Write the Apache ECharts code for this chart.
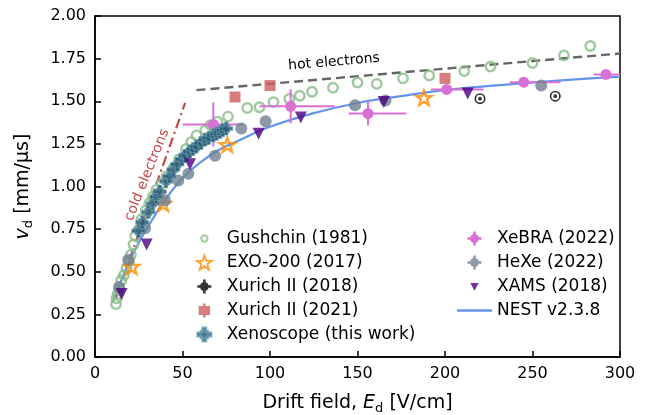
<!DOCTYPE html>
<html><head><meta charset="utf-8">
<script src="https://cdn.jsdelivr.net/npm/echarts@6/dist/echarts.min.js"></script>
<style>html,body{margin:0;padding:0;background:#fff}#c{width:646px;height:415px}</style>
</head><body><div id="c"></div>
<script>
// ---- data (E in V/cm, v in mm/us) ----
const gushchinE = [12,12.3,13,14,15,16.5,18,19.5,20.5,22,23,25,26.7,29,31,33,35,38,41,45,48,52,55,58,63,66,70,76,87,94,102,111,117,124,136,150,161,176,191,211,226,250,268,283];
const gushchinV = [0.31,0.345,0.37,0.40,0.45,0.48,0.52,0.56,0.60,0.66,0.71,0.75,0.81,0.86,0.90,0.94,0.98,1.02,1.06,1.11,1.16,1.22,1.26,1.30,1.33,1.36,1.38,1.41,1.46,1.465,1.495,1.514,1.532,1.556,1.579,1.61,1.602,1.634,1.651,1.677,1.704,1.724,1.769,1.824];
const exoE = [21,39,75.6,188];
const exoV = [0.53,0.90,1.245,1.52];
const xurich18E = [220,263];
const xurich18V = [1.515,1.53];
const xurich21E = [80,100,200];
const xurich21V = [1.525,1.592,1.634];
const xenoE = [24.8,27,30.5,33,35,37,40.6,42.5,44.8,47,49.5,51.5,54,56,58,60.5,62.9,65,67.6,69.5,71.4,73,75];
const xenoV = [0.74,0.79,0.85,0.90,0.94,0.97,1.03,1.06,1.10,1.13,1.16,1.18,1.205,1.22,1.235,1.255,1.275,1.285,1.30,1.31,1.32,1.33,1.34];
const xebraE = [67.6,111.8,156,201,245,292];
const xebraV = [1.364,1.47,1.428,1.569,1.612,1.657];
const xebraElo = [50,94,145,192,237,285];
const xebraEhi = [85,137,178,222,266,310];
const xebraVerr = [0.13,0.10,0.07,0.02,0.01,0.01];
const hexeE = [13.7,19,28.6,40,47.6,53.3,68.6,83.6,97.5,148.6,166,255];
const hexeV = [0.41,0.57,0.755,0.92,1.035,1.075,1.18,1.34,1.383,1.476,1.504,1.592];
const xamsE = [15.2,29.5,54.3,93.5,117.6,165,213];
const xamsV = [0.37,0.66,1.13,1.31,1.405,1.495,1.545];
const nestE = [10,15,20,25,30,40,50,60,70,80,100,125,150,175,200,250,300];
const nestV = [0.32,0.45,0.57,0.67,0.76,0.92,1.05,1.14,1.21,1.26,1.35,1.43,1.49,1.53,1.565,1.61,1.645];
const hotE = [58,300];
const hotV = [1.565,1.78];
const coldE = [12,51.5];
const coldV = [0.347,1.49];
const xTicks = [0,50,100,150,200,250,300];
const yTicks = [0,0.25,0.5,0.75,1,1.25,1.5,1.75,2];

const zip = (a,b) => a.map((x,i)=>[x,b[i]]);
const FONT = 'DejaVu Sans';

const STAR = 'path://M10 0 L12.35 6.76 L19.51 6.91 L13.8 11.24 L15.88 18.09 L10 14 L4.12 18.09 L6.2 11.24 L0.49 6.91 L7.65 6.76 Z';
const RING = 'path://M0,10 A10,10 0 1,0 20,10 A10,10 0 1,0 0,10 Z M3,10 A7,7 0 1,1 17,10 A7,7 0 1,1 3,10 Z M6.5,10 A3.5,3.5 0 1,0 13.5,10 A3.5,3.5 0 1,0 6.5,10 Z';
const PLUS = 'path://M4,0 H7 V4 H11 V7 H7 V11 H4 V7 H0 V4 H4 Z M2.5,2.5 H8.5 V8.5 H2.5 Z';
const PLUSCIRC = 'path://M4.5,0 H6.5 V4.5 H11 V6.5 H6.5 V11 H4.5 V6.5 H0 V4.5 H4.5 Z M5.5,2 A3.5,3.5 0 1,1 5.5,9 A3.5,3.5 0 1,1 5.5,2 Z';
const SMALLCIRC = 'path://M0,0 M20,20 M10,5.5 A4.5,4.5 0 1,1 10,14.5 A4.5,4.5 0 1,1 10,5.5 Z';
const SQERR = 'path://M4.5,0 H6.5 V2 H10 V9 H6.5 V11 H4.5 V9 H1 V2 H4.5 Z';
const TRIDOWN = 'path://M0,0 M20,20 M4,5 H16 L10,16 Z';
const LINEICON = 'path://M0,0 H35 V2.4 H0 Z';

const chart = echarts.init(document.getElementById('c'), null, {renderer:'canvas'});

const richName = {
  n: {fontSize: 19, fontFamily: FONT, color:'#000', lineHeight: 24, verticalAlign:'middle'},
  i: {fontSize: 19, fontFamily: FONT, fontStyle:'italic', color:'#000', lineHeight: 24, verticalAlign:'middle'},
  s: {fontSize: 13, fontFamily: FONT, color:'#000', lineHeight: 15, verticalAlign:'bottom'}
};

const legendCommon = {
  orient:'vertical', top: 225, itemWidth: 35, itemHeight: 14, itemGap: 7,
  selectedMode: false, symbolKeepAspect: true,
  textStyle: {fontSize: 17, fontFamily: FONT, color:'#000'}
};

const option = {
  animation: false,
  backgroundColor: '#fff',
  grid: {left: 95, right: 26, top: 16, bottom: 58, show: true, borderColor:'#000', borderWidth: 1.5, containLabel: false, outerBoundsMode: 'none'},
  xAxis: {
    type: 'value', min: 0, max: 300, interval: 50,
    name: '{n|Drift field, }{i|E}{s|d}{n| [V/cm]}',
    nameLocation: 'middle', nameGap: 34,
    nameTextStyle: {rich: richName},
    axisLine: {show: true, onZero:false, lineStyle: {color:'#000', width: 1.5}},
    axisTick: {show: true, inside: true, length: 6, lineStyle: {color:'#000', width: 1.5}},
    axisLabel: {color:'#000', fontSize: 16, fontFamily: FONT, margin: 9},
    splitLine: {show: false}
  },
  yAxis: {
    type: 'value', min: 0, max: 2, interval: 0.25,
    name: '{i|v}{s|d}{n| [mm/µs]}',
    nameLocation: 'middle', nameGap: 60, nameRotate: 90,
    nameTextStyle: {rich: richName},
    axisLine: {show: true, onZero:false, lineStyle: {color:'#000', width: 1.5}},
    axisTick: {show: true, inside: true, length: 6, lineStyle: {color:'#000', width: 1.5}},
    axisLabel: {color:'#000', fontSize: 16, fontFamily: FONT, margin: 9, formatter: v => v.toFixed(2)},
    splitLine: {show: false}
  },
  legend: [
    Object.assign({}, legendCommon, {
      left: 191,
      data: [
        {name:'Gushchin (1981)', icon: SMALLCIRC},
        {name:'EXO-200 (2017)'},
        {name:'Xurich II (2018)', icon: PLUSCIRC},
        {name:'Xurich II (2021)', icon: SQERR},
        {name:'Xenoscope (this work)', icon: PLUS}
      ]
    }),
    Object.assign({}, legendCommon, {
      left: 452,
      data: [
        {name:'XeBRA (2022)', icon: PLUSCIRC},
        {name:'HeXe (2022)', icon: PLUSCIRC},
        {name:'XAMS (2018)', icon: TRIDOWN},
        {name:'NEST v2.3.8', icon: LINEICON}
      ]
    })
  ],
  graphic: [
    {type:'text', x: 334, y: 62, rotation: 0.085,
     style:{text:'hot electrons', fontSize: 14, fontFamily: FONT, fill:'#000', align:'center', verticalAlign:'middle'}},
    {type:'text', x: 147, y: 175, rotation: 68*Math.PI/180,
     style:{text:'cold electrons', fontSize: 14, fontFamily: FONT, fill:'#c0474a', align:'center', verticalAlign:'middle'}}
  ],
  series: [
    {name:'hot', type:'line', data: zip(hotE, hotV), symbol:'none', z: 1,
     lineStyle:{color:'#666666', width: 2.4, type:[9,5]}},
    {name:'cold', type:'line', data: zip(coldE, coldV), symbol:'none', z: 1,
     lineStyle:{color:'#c0474a', width: 2.2, type:[10,4,2,4]}},
    {name:'NEST v2.3.8', type:'line', data: zip(nestE, nestV), symbol:'none', smooth: 0.4, z: 2,
     lineStyle:{color:'#6495ed', width: 2.2}, itemStyle:{color:'#6495ed'}},
    {name:'Gushchin (1981)', type:'scatter', data: zip(gushchinE, gushchinV), symbol:'circle', symbolSize: 9.5, z: 3,
     itemStyle:{color:'rgba(255,255,255,0)', borderColor:'#88bb88', borderWidth: 2.4}},
    {name:'EXO-200 (2017)', type:'scatter', data: zip(exoE, exoV), symbol: STAR, symbolSize: 15, symbolKeepAspect: true, z: 4,
     itemStyle:{color:'rgba(255,255,255,0)', borderColor:'#ff8c00', borderWidth: 2.4}},
    {name:'Xurich II (2018)', type:'scatter', data: zip(xurich18E, xurich18V), symbol: RING, symbolSize: 11, z: 4,
     itemStyle:{color:'#000'}},
    {name:'Xurich II (2021)', type:'scatter', data: zip(xurich21E, xurich21V), symbol:'rect', symbolSize: 11, z: 4,
     itemStyle:{color:'#cd5c5c'}},
    {name:'XeBRA (2022)', type:'custom', z: 5, clip: true,
     data: xebraE.map((e,i)=>[e, xebraV[i], xebraElo[i], xebraEhi[i], xebraVerr[i]]),
     encode: {x: 0, y: 1},
     itemStyle:{color:'#da70d6'},
     renderItem: function(params, api){
       const e = api.value(0), v = api.value(1), lo = api.value(2), hi = api.value(3), ve = api.value(4);
       const c = api.coord([e, v]);
       const l = api.coord([lo, v]), r = api.coord([hi, v]);
       const t = api.coord([e, v + ve]), b = api.coord([e, v - ve]);
       const st = {stroke:'#da70d6', lineWidth: 2};
       return {type:'group', children:[
         {type:'line', shape:{x1:l[0], y1:l[1], x2:r[0], y2:r[1]}, style: st},
         {type:'line', shape:{x1:t[0], y1:t[1], x2:b[0], y2:b[1]}, style: st},
         {type:'circle', shape:{cx:c[0], cy:c[1], r: 5.5}, style:{fill:'#da70d6'}}
       ]};
     }},
    {name:'HeXe (2022)', type:'scatter', data: zip(hexeE, hexeV), symbol:'circle', symbolSize: 12, z: 5,
     itemStyle:{color:'#708090'}},
    {name:'Xenoscope (this work)', type:'scatter', data: zip(xenoE, xenoV), symbol: PLUS, symbolSize: 13, z: 6,
     itemStyle:{color:'#1d506a', borderColor:'#6b9db3', borderWidth: 0.8}},
    {name:'XAMS (2018)', type:'scatter', data: zip(xamsE, xamsV), symbol:'triangle', symbolRotate: 180, symbolSize: 12, z: 6,
     itemStyle:{color:'#4b0082'}}
  ]
};
chart.setOption(option);
</script>
</body></html>
